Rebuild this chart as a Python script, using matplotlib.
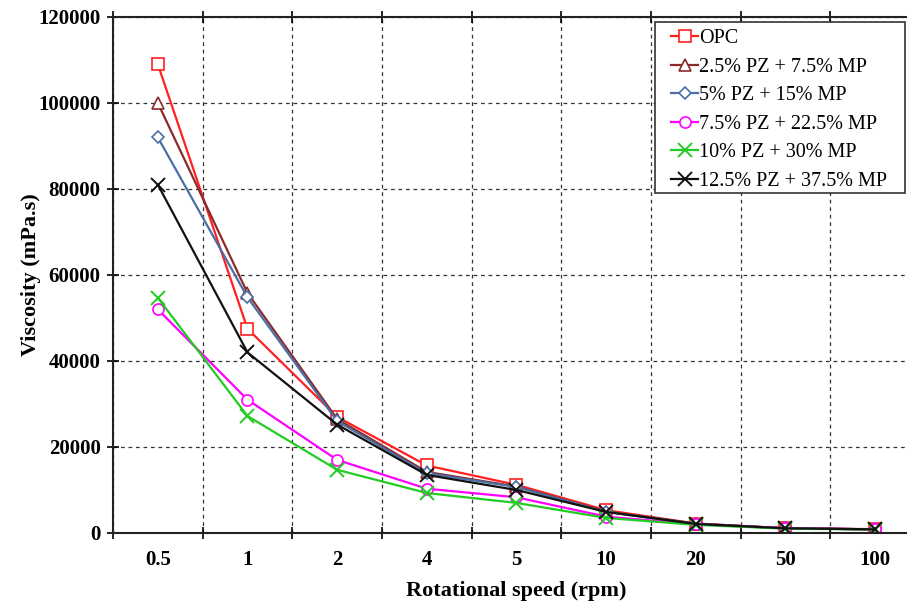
import numpy as np
import matplotlib
matplotlib.use("Agg")
import matplotlib.pyplot as plt
from matplotlib.patches import Rectangle

categories = ["0.5", "1", "2", "4", "5", "10", "20", "50", "100"]
opc = [109000, 47500, 27000, 15700, 11200, 5300, 2200, 1100, 900]
pz25 = [100000, 55800, 26500, 14200, 10800, 5000, 2200, 1100, 850]
pz5 = [92000, 54800, 26000, 13900, 10700, 4900, 2100, 1100, 850]
pz75 = [52000, 31000, 17000, 10300, 8300, 3800, 2000, 1100, 850]
pz10 = [54700, 27200, 14700, 9300, 7000, 3500, 1900, 1000, 800]
pz125 = [81000, 42000, 25200, 13500, 10000, 4900, 2100, 1100, 850]

series = [
    ("OPC", opc, "#FF2020", "s", "none"),
    ("2.5% PZ + 7.5% MP", pz25, "#8B2A2A", "^", "none"),
    ("5% PZ + 15% MP", pz5, "#4A6FA5", "D", "none"),
    ("7.5% PZ + 22.5% MP", pz75, "#FF00FF", "o", "none"),
    ("10% PZ + 30% MP", pz10, "#22CC22", "x", None),
    ("12.5% PZ + 37.5% MP", pz125, "#111111", "x", None),
]

plt.rcParams["font.family"] = ["Liberation Serif", "DejaVu Serif"]

W, H = 907, 602
fig = plt.figure(figsize=(W / 100, H / 100), dpi=100)
ax = fig.add_axes([113 / W, 1 - 533 / H, 807 / W, (533 - 17) / H])

x = np.arange(len(categories))
for label, vals, color, marker, mfc in series:
    kw = dict(color=color, marker=marker, lw=1.6, label=label)
    if mfc == "none":
        ms = 8 if marker != "D" else 6.5
        if marker == "^":
            ms = 8.5
        kw.update(markerfacecolor="white", markeredgecolor=color, markersize=ms, markeredgewidth=1.2)
    else:
        kw.update(markersize=10, markeredgewidth=1.4)
    ax.plot(x, vals, **kw)

ax.set_xlim(-0.5, len(categories) - 0.5)
ax.set_ylim(0, 120000)
ax.set_yticks(np.arange(0, 120001, 20000))
ax.set_xticks(np.arange(-0.5, len(categories), 1.0))
ax.set_xticklabels([])
ax.set_xticks(x, minor=True)
ax.set_xticklabels(categories, minor=True)
ax.tick_params(axis="x", which="minor", length=0, pad=12, labelsize=15)
ax.tick_params(axis="x", which="major", direction="inout", length=8, width=1.2, top=True)
ax.tick_params(axis="y", direction="inout", length=8, width=1.2, labelsize=15, pad=5)
for lab in ax.get_xticklabels(minor=True) + ax.get_yticklabels():
    lab.set_fontweight("bold")

ax.grid(True, which="major", color="#333333", linestyle=(0, (3, 3)), linewidth=0.9)
ax.set_axisbelow(True)
for s in ax.spines.values():
    s.set_linewidth(1.5)
    s.set_color("#222222")

ax.set_ylabel("Viscosity (mPa.s)", fontsize=16, fontweight="bold", labelpad=-2)
ax.set_xlabel("Rotational speed (rpm)", fontsize=16, fontweight="bold", labelpad=8)

# legend frame
ax.add_patch(Rectangle((655 / W, 1 - 193 / H), 250 / W, 171 / H, transform=fig.transFigure,
                       facecolor="white", edgecolor="#333333", linewidth=1.2, zorder=4, clip_on=False))
leg = ax.legend(loc="upper left", bbox_to_anchor=(671 / W, 1 - 29 / H), bbox_transform=fig.transFigure,
                frameon=False, fontsize=14.5,
                handlelength=1.35, handletextpad=0.05, labelspacing=0.47, borderpad=0.0,
                borderaxespad=0)
leg.set_zorder(5)

fig.savefig("out.png", dpi=100)
